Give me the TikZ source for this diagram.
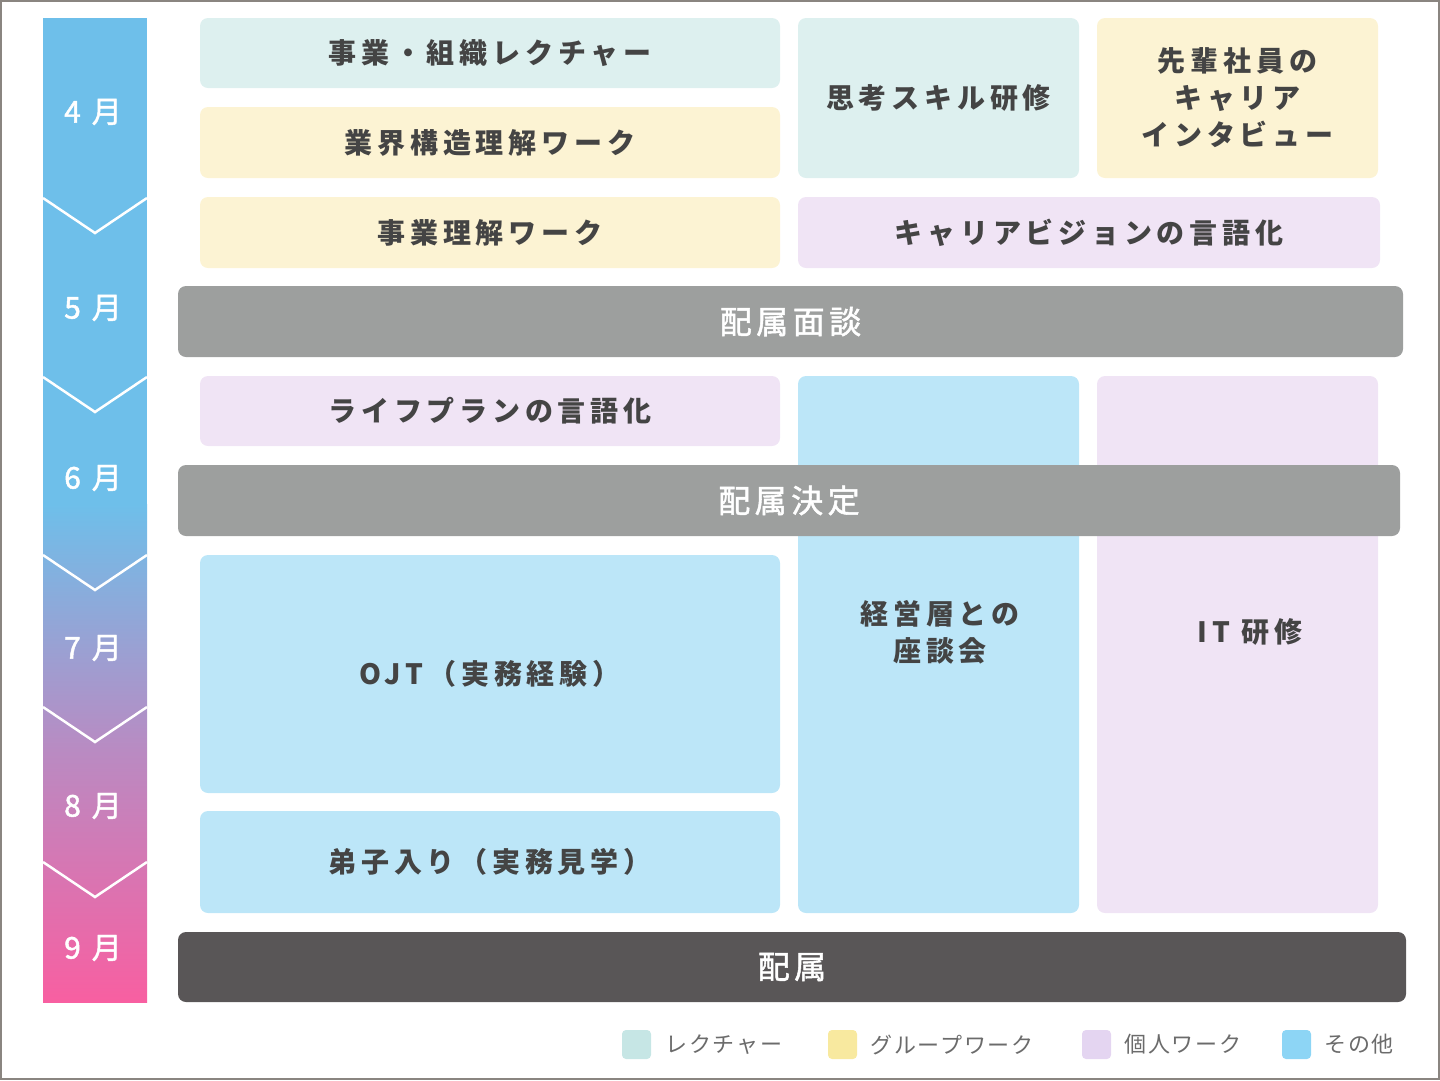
\documentclass[tikz,border=0pt]{standalone}
\usepackage{fontspec}
\setmainfont{Noto Sans CJK JP}[LetterSpace=17]
\newfontfamily\legendfont{Noto Sans CJK JP}[LetterSpace=8]
\newfontfamily\medfont{Noto Sans CJK JP}[LetterSpace=14, FakeBold=1.6]
\usepackage{tikz}
\usetikzlibrary{positioning}
\definecolor{ink}{HTML}{444444}
\definecolor{lectc}{HTML}{DDF0EF}
\definecolor{groupc}{HTML}{FCF3D3}
\definecolor{solo}{HTML}{F0E4F5}
\definecolor{otherc}{HTML}{BCE6F8}
\definecolor{lectk}{HTML}{C6E6E5}
\definecolor{groupk}{HTML}{F8E99F}
\definecolor{solok}{HTML}{E4D5F1}
\definecolor{otherk}{HTML}{8DD5F5}
\definecolor{barc}{HTML}{9D9F9E}
\definecolor{finalc}{HTML}{595657}
\definecolor{monthtop}{HTML}{6EBFEA}
\definecolor{monthbot}{HTML}{F85FA1}
\definecolor{framec}{HTML}{8A8580}
\definecolor{legtext}{HTML}{6B6B6B}
\newcommand\boxfont{\fontsize{28}{37}\selectfont\bfseries}
\newcommand\barfont{\medfont\fontsize{32}{36}\selectfont}

\begin{document}
\begin{tikzpicture}[x=1pt, y=-1pt,
    box/.style={rounded corners=8pt, inner sep=0pt, align=center, text=ink, font=\boxfont},
    bar/.style={rounded corners=8pt, inner sep=0pt, text=white, font=\barfont},
    month/.style={text=white, font=\medfont\fontsize{30}{34}\selectfont},
    chev/.style={white, line width=2.5pt},
    legsq/.style={rounded corners=4pt, minimum size=29pt, inner sep=0pt},
    legtxt/.style={inner sep=0pt, text=legtext, font=\legendfont\fontsize{22}{26}\selectfont}]
  \useasboundingbox (0,0) rectangle (1440,1080);
  % frame
  \draw[framec, line width=2pt] (1,1) rectangle (1439,1079);
  % month column
  \fill[monthtop] (43,18) rectangle (147,505);
  \shade[top color=monthtop, bottom color=monthbot, middle color=monthtop!45!monthbot]
    (43,504) rectangle (147,1002);
  \foreach \cy in {198,377,555,707,862}
    \draw[chev] (43,\cy) -- (95,\cy+35) -- (147,\cy);
  \node[month] (apr) at (93,112) {4 月};
  \node[month] (may) at (93,308) {5 月};
  \node[month] (jun) at (93,478) {6 月};
  \node[month] (jul) at (93,648) {7 月};
  \node[month] (aug) at (93,806) {8 月};
  \node[month] (sep) at (93,948) {9 月};
  % first block
  \node[box, fill=lectc, minimum width=580pt, minimum height=70pt] (bizLecture) at (490,53) {事業・組織レクチャー};
  \node[box, fill=groupc, minimum width=580pt, minimum height=71pt] (industryWork) at (490,142.5) {業界構造理解ワーク};
  \node[box, fill=lectc, minimum width=281pt, minimum height=160pt] (thinkSkill) at (938.5,98) {思考スキル研修};
  \node[box, fill=groupc, minimum width=281pt, minimum height=160pt] (seniorTalk) at (1237.5,98) {先輩社員の\\キャリア\\インタビュー};
  \node[box, fill=groupc, minimum width=580pt, minimum height=71pt] (bizWork) at (490,232.5) {事業理解ワーク};
  \node[box, fill=solo, minimum width=582pt, minimum height=71pt] (careerVision) at (1089,232.5) {キャリアビジョンの言語化};
  \node[bar, fill=barc, minimum width=1225pt, minimum height=71pt] (assignTalk) at (790.5,321.5) {配属面談};
  % second block
  \node[box, fill=solo, minimum width=580pt, minimum height=70pt] (lifePlan) at (490,411) {ライフプランの言語化};
  \node[box, fill=otherc, minimum width=281pt, minimum height=537pt] (mgmtTalk) at (938.5,644.5) {};
  \node[box, fill=solo, minimum width=281pt, minimum height=537pt] (itTrain) at (1237.5,644.5) {};
  \node[box] (mgmtText) at (940,632) {経営層との\\座談会};
  \node[box] (itText) at (1250,632) {IT 研修};
  \node[bar, fill=barc, minimum width=1222pt, minimum height=71pt] (assignFix) at (789,500.5) {配属決定};
  \node[box, fill=otherc, minimum width=580pt, minimum height=238pt] (ojt) at (490,674) {OJT（実務経験）};
  \node[box, fill=otherc, minimum width=580pt, minimum height=102pt] (apprentice) at (490,862) {弟子入り（実務見学）};
  \node[bar, fill=finalc, minimum width=1228pt, minimum height=70pt] (assign) at (792,967) {配属};
  % legend
  \node[legsq, fill=lectk] (legLect) at (636.5,1044.5) {};
  \node[legtxt, right=14pt of legLect] (legLectTxt) {レクチャー};
  \node[legsq, fill=groupk] (legGroup) at (842.5,1044.5) {};
  \node[legtxt, right=13pt of legGroup] (legGroupTxt) {グループワーク};
  \node[legsq, fill=solok] (legSolo) at (1096.5,1044.5) {};
  \node[legtxt, right=13pt of legSolo] (legSoloTxt) {個人ワーク};
  \node[legsq, fill=otherk] (legOther) at (1296.5,1044.5) {};
  \node[legtxt, right=13pt of legOther] (legOtherTxt) {その他};
\end{tikzpicture}
\end{document}
